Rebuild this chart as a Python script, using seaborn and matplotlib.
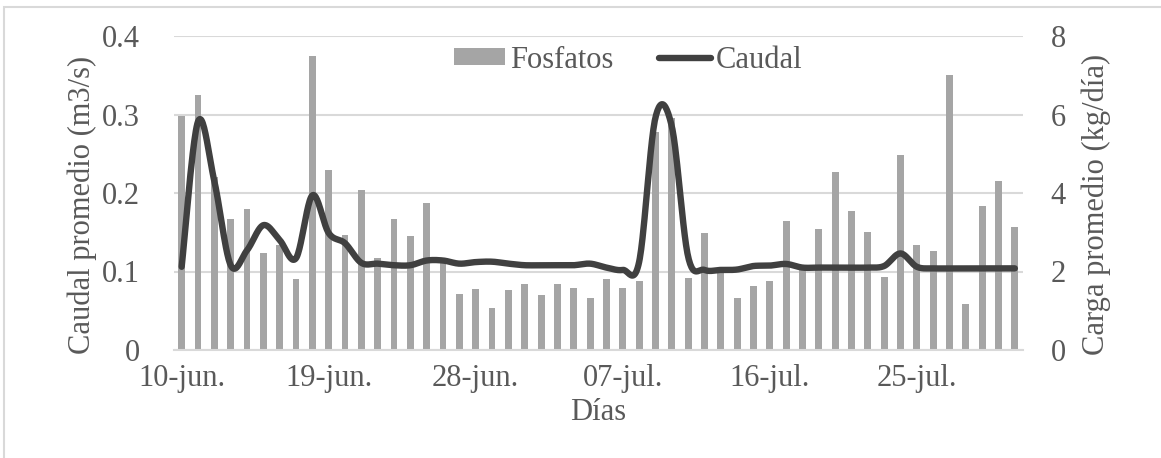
import numpy as np
import pandas as pd
import matplotlib
matplotlib.use("Agg")
import matplotlib.pyplot as plt
from matplotlib.patches import Rectangle
from matplotlib.lines import Line2D
from matplotlib.patches import Patch
import seaborn as sns

# ---------------- data ----------------
dias = list(pd.date_range("2023-06-10", "2023-07-31", freq="D").strftime("%d-%m"))
fosfatos = [5.97, 6.50, 4.42, 3.35, 3.59, 2.46, 2.68, 1.81, 7.49, 4.58,
            2.92, 4.07, 2.35, 3.35, 2.90, 3.74, 2.25, 1.43, 1.55, 1.06,
            1.53, 1.68, 1.40, 1.68, 1.59, 1.32, 1.80, 1.58, 1.75, 5.55,
            5.90, 1.84, 2.98, 2.00, 1.32, 1.64, 1.76, 3.29, 2.12, 3.09,
            4.53, 3.53, 3.01, 1.87, 4.96, 2.68, 2.52, 7.00, 1.16, 3.68,
            4.31, 3.13]
caudal = [0.106, 0.291, 0.215, 0.108, 0.127, 0.159, 0.140, 0.117, 0.197, 0.149,
          0.136, 0.111, 0.110, 0.108, 0.108, 0.114, 0.114, 0.110, 0.112, 0.1125,
          0.110, 0.108, 0.108, 0.108, 0.108, 0.110, 0.105, 0.102, 0.112, 0.296,
          0.285, 0.119, 0.102, 0.102, 0.1025, 0.107, 0.1075, 0.1096, 0.105, 0.105,
          0.105, 0.105, 0.105, 0.107, 0.123, 0.106, 0.104, 0.104, 0.104, 0.104,
          0.104, 0.104]
tick_labels = ["10-jun.", "19-jun.", "28-jun.", "07-jul.", "16-jul.", "25-jul."]
tick_step = 9

# ---------------- style ----------------
sns.set_theme(style="white")
plt.rcParams["font.family"] = ["Liberation Serif", "DejaVu Serif"]
TXT = "#595959"
GRID = "#D9D9D9"
BAR = "#A5A5A5"
LINE = "#404040"
FS = 22

W, H = 1161, 458
fig = plt.figure(figsize=(W / 100, H / 100), dpi=100)
L, R, T, B = 173.5, 1023, 36, 350
ax = fig.add_axes([L / W, 1 - B / H, (R - L) / W, (B - T) / H])
ax2 = ax.twinx()

n = len(fosfatos)
xs = np.arange(n)

# bars on secondary (right) axis
df_bar = pd.DataFrame({"x": xs, "Fosfatos": fosfatos})
sns.barplot(data=df_bar, x="x", y="Fosfatos", ax=ax2, color=BAR,
            width=0.42, saturation=1, edgecolor="none", zorder=2)

# smoothed line (Excel-like bezier through the data points) on primary axis
def smooth(xv, yv, k=24):
    xv = np.asarray(xv, float); yv = np.asarray(yv, float)
    px = np.concatenate([[xv[0]], xv, [xv[-1]]])
    py = np.concatenate([[yv[0]], yv, [yv[-1]]])
    t = np.linspace(0, 1, k, endpoint=False)[:, None]
    outx, outy = [], []
    for i in range(1, len(px) - 2):
        p0x, p1x, p2x, p3x = px[i - 1], px[i], px[i + 1], px[i + 2]
        p0y, p1y, p2y, p3y = py[i - 1], py[i], py[i + 1], py[i + 2]
        c1x, c1y = p1x + (p2x - p0x) / 6, p1y + (p2y - p0y) / 6
        c2x, c2y = p2x - (p3x - p1x) / 6, p2y - (p3y - p1y) / 6
        bx = (1 - t) ** 3 * p1x + 3 * (1 - t) ** 2 * t * c1x + 3 * (1 - t) * t ** 2 * c2x + t ** 3 * p2x
        by = (1 - t) ** 3 * p1y + 3 * (1 - t) ** 2 * t * c1y + 3 * (1 - t) * t ** 2 * c2y + t ** 3 * p2y
        outx.append(bx.ravel()); outy.append(by.ravel())
    outx.append([xv[-1]]); outy.append([yv[-1]])
    return np.concatenate(outx), np.concatenate(outy)

sx, sy = smooth(xs, caudal)
df_line = pd.DataFrame({"x": sx, "Caudal": sy})
sns.lineplot(data=df_line, x="x", y="Caudal", ax=ax, color=LINE, lw=4.6,
             sort=False, estimator=None, solid_capstyle="round")

# put line axis on top of bar axis
ax.set_zorder(ax2.get_zorder() + 1)
ax.patch.set_visible(False)

ax.set_ylim(0, 0.4)
ax2.set_ylim(0, 8)
ax.set_yticks([0, 0.1, 0.2, 0.3, 0.4])
ax.set_yticklabels(["0", "0.1", "0.2", "0.3", "0.4"])
ax2.set_yticks([0, 2, 4, 6, 8])
ax2.set_yticklabels(["0", "2", "4", "6", "8"])

ax2.set_axisbelow(True)
ax2.yaxis.grid(True, color=GRID, lw=1.5, zorder=0)
ax2.xaxis.grid(False)
ax.grid(False)

ticks = np.arange(0, n, tick_step)[:len(tick_labels)]
ax.set_xticks(ticks)
ax.set_xticklabels(tick_labels)
ax.set_xlim(-0.5, n - 0.5)
ax2.set_xlabel("")

for a in (ax, ax2):
    for s in a.spines.values():
        s.set_visible(False)
    a.tick_params(axis="both", length=0, labelsize=FS, labelcolor=TXT)
ax2.tick_params(axis="x", labelbottom=False)
ax.tick_params(axis="x", labelbottom=True)
ax.spines["bottom"].set_visible(True)
ax.spines["bottom"].set_color(GRID)
ax.spines["bottom"].set_linewidth(1.5)
ax.tick_params(axis="y", pad=24)
ax2.tick_params(axis="y", pad=20)
ax.tick_params(axis="x", pad=10)

ax.set_xlabel("Días", fontsize=FS, color=TXT)
ax.set_ylabel("Caudal promedio (m3/s)", fontsize=FS, color=TXT)
ax2.set_ylabel("Carga promedio (kg/día)", fontsize=FS, color=TXT)
for lab in (ax.yaxis.label, ax2.yaxis.label):
    lab.set_rotation(90)
    lab.set_va("center")
    lab.set_ha("center")
ax.xaxis.label.set_va("center")
ax.xaxis.set_label_coords(0.5, (B - 412) / (B - T))
ax.yaxis.set_label_coords((82 - L) / (R - L), (B - 205) / (B - T))
ax2.yaxis.set_label_coords((1096 - L) / (R - L), (B - 204) / (B - T))

handles = [Patch(facecolor=BAR, edgecolor="none", label="Fosfatos"),
           Line2D([0], [0], color=LINE, lw=4.6, solid_capstyle="round", label="Caudal")]
fig.legend(handles=handles, loc="center", bbox_to_anchor=(628 / W, 1 - 60 / H),
           ncol=2, frameon=False, fontsize=FS, labelcolor=TXT,
           handlelength=1.7, handleheight=0.5, handletextpad=0.15, columnspacing=1.5)

# outer chart frame
fig.patches.append(Rectangle((4 / W, -0.1), 2.0, 1 - 7 / H + 0.1, transform=fig.transFigure,
                             fill=False, edgecolor=GRID, lw=1.5))

fig.savefig("out.png", dpi=100)
